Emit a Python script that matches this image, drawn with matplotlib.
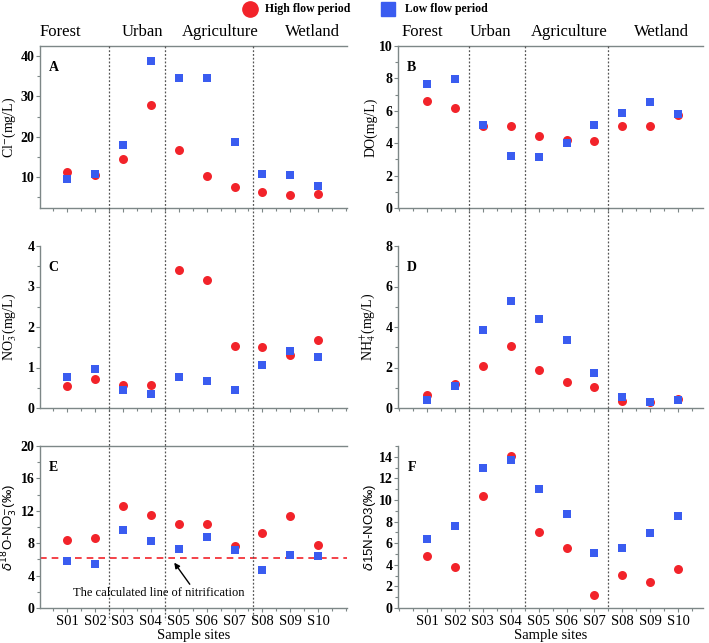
import matplotlib
matplotlib.use("Agg")
import matplotlib.pyplot as plt
from matplotlib.lines import Line2D
from matplotlib.ticker import MultipleLocator
from matplotlib.transforms import blended_transform_factory

# --- data --------------------------------------------------------------
sites = ["S01", "S02", "S03", "S04", "S05", "S06", "S07", "S08", "S09", "S10"]
land_uses = ["Forest", "Urban", "Agriculture", "Wetland"]

cl_high = [11.2, 10.4, 14.4, 27.8, 16.7, 10.3, 7.4, 6.3, 5.5, 5.7]
cl_low = [9.6, 10.7, 18.0, 38.8, 34.5, 34.5, 18.7, 10.7, 10.6, 7.7]

do_high = [6.6, 6.2, 5.08, 5.08, 4.43, 4.2, 4.14, 5.08, 5.08, 5.72]
do_low = [7.66, 7.95, 5.14, 3.2, 3.16, 4.02, 5.14, 5.86, 6.52, 5.78]

no3_high = [0.54, 0.71, 0.56, 0.57, 3.4, 3.17, 1.53, 1.51, 1.30, 1.68]
no3_low = [0.76, 0.96, 0.45, 0.34, 0.77, 0.67, 0.44, 1.07, 1.41, 1.26]

nh4_high = [0.66, 1.17, 2.09, 3.05, 1.89, 1.30, 1.05, 0.33, 0.30, 0.46]
nh4_low = [0.39, 1.08, 3.86, 5.30, 4.40, 3.38, 1.72, 0.54, 0.31, 0.39]

d18o_high = [8.34, 8.67, 12.6, 11.54, 10.35, 10.35, 7.64, 9.32, 11.33, 7.8]
d18o_low = [5.79, 5.38, 9.65, 8.21, 7.27, 8.71, 7.15, 4.68, 6.49, 6.37]
nitrification_line = 6.2

d15n_high = [4.85, 3.77, 10.35, 14.03, 7.05, 5.59, 1.24, 3.06, 2.41, 3.62]
d15n_low = [6.43, 7.6, 12.98, 13.69, 11.0, 8.71, 5.07, 5.56, 6.98, 8.53]

# --- style -------------------------------------------------------------
RED = "#f2232a"
BLUE = "#3a5cf0"
SPINE = "#7d8787"
SERIF = "Liberation Serif"
SANS = "Liberation Sans"

W, H = 709, 643
fig = plt.figure(figsize=(W / 100, H / 100), dpi=100)


def px_rect(left, top, right, bottom):
  return [left / W, 1 - bottom / H, (right - left) / W, (bottom - top) / H]


panels = [
  # letter, high, low, column, row, ylim, ystep, ylabel, label font, label x
  ("A", cl_high, cl_low, 0, 0, (2.3, 42.5), 10, r"Cl$^{-}$(mg/L)", "serif", -0.072),
  ("B", do_high, do_low, 1, 0, (0, 10), 2, "DO(mg/L)", "serif", -0.066),
  ("C", no3_high, no3_low, 0, 1, (0, 4), 1, r"NO$_3^{-}$(mg/L)", "serif", -0.070),
  ("D", nh4_high, nh4_low, 1, 1, (0, 8), 2, r"NH$_4^{+}$(mg/L)", "serif", -0.066),
  ("E", d18o_high, d18o_low, 0, 2, (0, 20), 4, r"$\delta^{18}$O-NO$_3^{-}$(‰)", "sans", -0.066),
  ("F", d15n_high, d15n_low, 1, 2, (0, 15), 2, r"$\delta$15N-NO3(‰)", "sans", -0.066),
]

col_px = [(40, 347), (398, 703)]
col_xlim = [(0.03, 11.03), (-0.04, 10.89)]
row_px = [(46, 208), (246, 408), (446, 608)]
top_spine = {"A", "B", "E"}
x = list(range(1, len(sites) + 1))

axes = {}
for letter, high, low, col, row, ylim, ystep, label, lfam, lx in panels:
  ax = fig.add_axes(px_rect(col_px[col][0], row_px[row][0], col_px[col][1], row_px[row][1]))
  axes[letter] = ax
  ax.scatter(x, high, s=42, marker="o", color=RED, zorder=3, linewidths=0)
  ax.scatter(x, low, s=36, marker="s", color=BLUE, zorder=4, linewidths=0)
  ax.set_xlim(*col_xlim[col])
  ax.set_ylim(*ylim)
  ax.yaxis.set_major_locator(MultipleLocator(ystep))
  ax.yaxis.set_minor_locator(MultipleLocator(ystep / 2))
  ax.xaxis.set_major_locator(MultipleLocator(1))
  ax.xaxis.set_minor_locator(MultipleLocator(0.5))
  for side in ["left", "bottom", "top", "right"]:
    ax.spines[side].set_color(SPINE)
    ax.spines[side].set_linewidth(1.0)
  ax.spines["right"].set_visible(False)
  ax.spines["top"].set_visible(letter in top_spine)
  ax.tick_params(axis="both", which="both", direction="out", color=SPINE, width=0.8)
  ax.tick_params(axis="both", which="major", length=3)
  ax.tick_params(axis="both", which="minor", length=2)
  ax.tick_params(axis="y", pad=1)
  ax.tick_params(axis="x", pad=2)
  for t in ax.get_yticklabels():
    t.set_fontfamily(SERIF)
    t.set_fontweight("bold")
    t.set_fontsize(10)
  ax.set_xticks(x)
  if row == 2:
    ax.set_xticklabels(sites, fontfamily=SERIF, fontsize=10.5)
    ax.set_xlabel("Sample sites", fontfamily=SERIF, fontsize=10.5, labelpad=1)
  else:
    ax.set_xticklabels([])
  if lfam == "serif":
    ax.set_ylabel(label, fontfamily=SERIF, fontsize=10, math_fontfamily="stix")
  else:
    ax.set_ylabel(label, fontfamily=SANS, fontsize=9.5, math_fontfamily="dejavusans")
  ax.yaxis.set_label_coords(lx, 0.5)
  ax.text(0.045, 0.87, letter, transform=ax.transAxes, fontfamily=SERIF,
          fontsize=10, fontweight="bold", ha="center", va="center")

# nitrification line and annotation in E
axE = axes["E"]
axE.axhline(nitrification_line, color=RED, linestyle=(0, (4, 3)), linewidth=1.2, zorder=2)
axE.annotate("The calculated line of nitrification", xy=(4.84, 5.6), xytext=(4.3, 1.85),
             fontfamily=SERIF, fontsize=9, ha="center", va="center",
             arrowprops=dict(arrowstyle="-|>", color="black", lw=1, mutation_scale=8,
                             shrinkA=0, shrinkB=0, relpos=(0.69, 1.0)))

# vertical group separators spanning each column
separators = [[2.5, 4.5, 7.65], [2.5, 4.5, 7.5]]
sep_span = [(46, 620), (46, 608)]
for col, bottom_ax in enumerate([axes["E"], axes["F"]]):
  trans = blended_transform_factory(bottom_ax.transData, fig.transFigure)
  for sx in separators[col]:
    line = Line2D([sx, sx], [1 - sep_span[col][0] / H, 1 - sep_span[col][1] / H],
                  transform=trans, color="#555555", linestyle=(0, (1.5, 1.5)),
                  linewidth=0.9, clip_on=False, zorder=1)
    fig.add_artist(line)

# land-use titles
group_centers = [[60, 142, 220, 312], [422, 490, 569, 661]]
for col in range(2):
  for name, cx in zip(land_uses, group_centers[col]):
    fig.text(cx / W, 1 - 32 / H, name, fontfamily=SERIF, fontsize=12,
             ha="center", va="center")

# legend
fig.add_artist(Line2D([250 / W], [1 - 9 / H], marker="o", markersize=11, color=RED,
                      linestyle="none", transform=fig.transFigure))
fig.text(265 / W, 1 - 9 / H, "High flow period", fontfamily=SERIF, fontsize=8.5,
         fontweight="bold", ha="left", va="center")
fig.add_artist(Line2D([388 / W], [1 - 9 / H], marker="s", markersize=10, color=BLUE,
                      linestyle="none", transform=fig.transFigure))
fig.text(405 / W, 1 - 9 / H, "Low flow period", fontfamily=SERIF, fontsize=8.5,
         fontweight="bold", ha="left", va="center")

fig.savefig("out.png", dpi=100)
